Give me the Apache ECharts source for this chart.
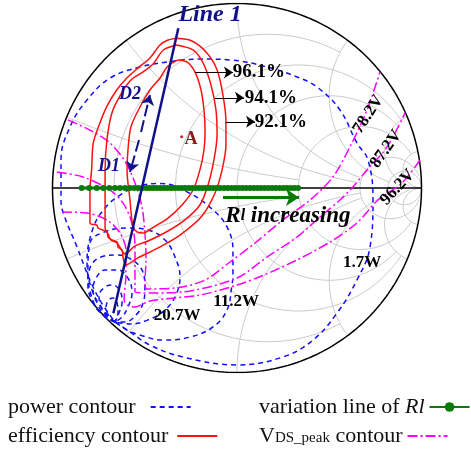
<!DOCTYPE html>
<html><head><meta charset="utf-8">
<script src="https://cdn.jsdelivr.net/npm/echarts@6/dist/echarts.min.js"></script>
<style>html,body{margin:0;padding:0;background:#fff}#c{width:471px;height:451px}</style>
</head><body><div id="c"></div><script>
// ---- Smith chart grid (normalized resistance / reactance values and their clip limits)
const gridR = [0.2, 0.5, 1, 2, 5, 10];
const gridRLim = [2, 5, 5, 10, 30, Infinity];
const gridX = [0.2, 0.5, 1, 2, 5, 10];
const gridXLim = [2, 5, 5, 10, 30, Infinity];

// ---- Efficiency contours (reflection coefficient, [Re, Im])
const eff961 = [[-0.320,0.694],[-0.271,0.683],[-0.228,0.629],[-0.195,0.531],[-0.179,0.423],[-0.173,0.314],[-0.179,0.206],[-0.201,0.098],[-0.238,-0.011],[-0.298,-0.092],[-0.374,-0.163],[-0.461,-0.217],[-0.509,-0.244],[-0.542,-0.238],[-0.564,-0.211],[-0.580,-0.065],[-0.596,0.098],[-0.591,0.206],[-0.575,0.331],[-0.526,0.439],[-0.472,0.531],[-0.417,0.596],[-0.379,0.656],[-0.320,0.694]];
const eff941 = [[-0.327,0.775],[-0.238,0.748],[-0.184,0.678],[-0.141,0.558],[-0.114,0.423],[-0.108,0.287],[-0.125,0.152],[-0.157,0.016],[-0.201,-0.092],[-0.282,-0.173],[-0.374,-0.233],[-0.482,-0.287],[-0.553,-0.314],[-0.607,-0.358],[-0.629,-0.331],[-0.650,-0.298],[-0.683,-0.282],[-0.699,-0.249],[-0.715,-0.217],[-0.715,-0.065],[-0.715,0.098],[-0.705,0.260],[-0.678,0.407],[-0.629,0.509],[-0.575,0.585],[-0.509,0.629],[-0.455,0.672],[-0.399,0.748],[-0.327,0.775]];
const eff921 = [[-0.327,0.811],[-0.244,0.797],[-0.163,0.732],[-0.108,0.640],[-0.076,0.504],[-0.060,0.358],[-0.060,0.233],[-0.081,0.098],[-0.119,-0.027],[-0.190,-0.152],[-0.309,-0.255],[-0.428,-0.325],[-0.537,-0.379],[-0.602,-0.417],[-0.618,-0.374],[-0.623,-0.336],[-0.645,-0.320],[-0.650,-0.293],[-0.678,-0.282],[-0.699,-0.266],[-0.705,-0.238],[-0.753,-0.217],[-0.759,-0.201],[-0.797,-0.190],[-0.797,-0.011],[-0.788,0.098],[-0.779,0.244],[-0.743,0.352],[-0.706,0.441],[-0.652,0.531],[-0.598,0.595],[-0.537,0.650],[-0.472,0.705],[-0.417,0.775],[-0.374,0.802],[-0.327,0.811]];

// ---- Output power contours
const pow17 = [[-0.661,-0.726],[-0.580,-0.780],[-0.472,-0.851],[-0.293,-0.916],[0,-0.959],[0.249,-0.916],[0.412,-0.824],[0.542,-0.678],[0.650,-0.499],[0.721,-0.320],[0.737,-0.065],[0.710,0.152],[0.650,0.244],[0.558,0.423],[0.434,0.547],[0.325,0.602],[0.163,0.656],[-0.038,0.694],[-0.201,0.699],[-0.379,0.683],[-0.526,0.656],[-0.688,0.596],[-0.813,0.477],[-0.905,0.331],[-0.954,0.152],[-0.954,-0.065],[-0.938,-0.146],[-0.867,-0.320],[-0.797,-0.499],[-0.737,-0.618],[-0.661,-0.726]];
const pow112 = [[-0.661,-0.726],[-0.721,-0.667],[-0.786,-0.553],[-0.813,-0.401],[-0.780,-0.217],[-0.715,-0.108],[-0.634,-0.038],[-0.542,0.007],[-0.417,0.025],[-0.255,-0.029],[-0.130,-0.119],[-0.054,-0.211],[-0.022,-0.336],[-0.022,-0.461],[-0.029,-0.537],[-0.054,-0.661],[-0.130,-0.753],[-0.255,-0.808],[-0.401,-0.824],[-0.526,-0.797],[-0.596,-0.770],[-0.661,-0.726]];
const pow207 = [[-0.661,-0.726],[-0.743,-0.672],[-0.791,-0.580],[-0.808,-0.461],[-0.797,-0.298],[-0.715,-0.237],[-0.591,-0.217],[-0.482,-0.228],[-0.390,-0.282],[-0.336,-0.374],[-0.309,-0.482],[-0.331,-0.580],[-0.390,-0.661],[-0.482,-0.715],[-0.580,-0.737],[-0.661,-0.726]];
const powC4 = [[-0.661,-0.726],[-0.721,-0.694],[-0.780,-0.623],[-0.808,-0.526],[-0.797,-0.434],[-0.737,-0.374],[-0.645,-0.363],[-0.569,-0.390],[-0.515,-0.444],[-0.499,-0.537],[-0.509,-0.623],[-0.547,-0.688],[-0.607,-0.726],[-0.661,-0.726]];
const powC5 = [[-0.661,-0.726],[-0.715,-0.694],[-0.753,-0.634],[-0.780,-0.553],[-0.764,-0.488],[-0.715,-0.444],[-0.645,-0.444],[-0.591,-0.488],[-0.569,-0.569],[-0.591,-0.645],[-0.623,-0.699],[-0.661,-0.726]];
const powC6 = [[-0.661,-0.726],[-0.705,-0.694],[-0.737,-0.645],[-0.748,-0.585],[-0.715,-0.537],[-0.672,-0.526],[-0.634,-0.558],[-0.623,-0.618],[-0.640,-0.678],[-0.661,-0.726]];
const powC7 = [[-0.661,-0.726],[-0.694,-0.694],[-0.710,-0.650],[-0.699,-0.612],[-0.672,-0.596],[-0.650,-0.623],[-0.645,-0.672],[-0.661,-0.726]];

// ---- VDS_peak contours
const vds782 = [[-0.916,0.369],[-0.797,0.314],[-0.688,0.244],[-0.602,0.136],[-0.547,0.011],[-0.515,-0.103],[-0.499,-0.244],[-0.493,-0.390],[-0.499,-0.515],[-0.488,-0.547],[-0.336,-0.542],[-0.173,-0.499],[-0.038,-0.401],[0.098,-0.298],[0.249,-0.173],[0.396,-0.065],[0.520,0.060],[0.612,0.222],[0.705,0.423],[0.775,0.629]];
const vds872 = [[-0.976,0.087],[-0.835,0.060],[-0.688,-0.011],[-0.618,-0.081],[-0.575,-0.173],[-0.553,-0.309],[-0.553,-0.444],[-0.553,-0.564],[-0.472,-0.569],[-0.255,-0.558],[0,-0.488],[0.163,-0.374],[0.325,-0.266],[0.450,-0.157],[0.558,-0.065],[0.623,0],[0.705,0.098],[0.813,0.222],[0.911,0.407]];
const vds962 = [[-0.949,-0.130],[-0.813,-0.136],[-0.705,-0.173],[-0.634,-0.244],[-0.602,-0.336],[-0.602,-0.472],[-0.612,-0.607],[-0.596,-0.634],[-0.553,-0.645],[-0.472,-0.612],[-0.201,-0.580],[0,-0.526],[0.141,-0.474],[0.325,-0.390],[0.504,-0.293],[0.650,-0.190],[0.764,-0.065],[0.894,0.027],[0.992,0.152]];

// ---- Load-resistance variation line (points on the real axis)
const rlLine = [-0.842,-0.801,-0.760,-0.725,-0.692,-0.661,-0.634,-0.607,-0.580,-0.557,-0.535,-0.511,-0.490,-0.472,-0.453,-0.434,-0.415,-0.396,-0.377,-0.358,-0.339,-0.320,-0.301,-0.282,-0.263,-0.244,-0.225,-0.206,-0.187,-0.168,-0.149,-0.130,-0.111,-0.092,-0.07,-0.05,-0.03,-0.01,0.01,0.03,0.05,0.07,0.09,0.11,0.13,0.15,0.17,0.19,0.21,0.23,0.25,0.27,0.29,0.31,0.331];

// ---- Line 1 and annotation arrows
const line1 = [[-0.318,0.866],[-0.670,-0.679]];
const arrowsBlack = [[[-0.228,0.626],[-0.022,0.626]],[[-0.119,0.489],[0.038,0.489]],[[-0.060,0.359],[0.098,0.359]]];
const arrowsNavy = [[[-0.520,0.304],[-0.472,0.504]],[[-0.531,0.260],[-0.580,0.087]]];
const arrowGreen = [[[-0.076,-0.051],[0.336,-0.051]]];
const pointA = [[-0.300,0.278]];

// ---- Text annotations
const labelTexts = ['96.1%','94.1%','92.1%','78.2V','87.2V','96.2V','1.7W','11.2W','20.7W'];
const labelPos = [[0.119,0.629],[0.184,0.488],[0.238,0.358],[0.712,0.399],[0.808,0.211],[0.870,0.003],[0.678,-0.407],[-0.005,-0.618],[-0.325,-0.694]];
const labelRot = [0,0,0,57,55,47,0,0,0];

const chart = echarts.init(document.getElementById('c'), null, {renderer:'canvas'});
const FONT = '"Liberation Serif","Times New Roman",serif';

function gam(r, x){ const d=(r+1)*(r+1)+x*x; return [(r*r+x*x-1)/d, 2*x/d]; }
const series = [];
function addLine(data, style, extra){ series.push(Object.assign({type:'line', data:data, symbol:'none', silent:true, animation:false, lineStyle:style, itemStyle:{color:style.color}}, extra||{})); }

// grid: resistance circles
gridR.forEach((r,k)=>{
  const a = Math.atan(gridRLim[k]); const pts=[]; const N=360;
  for(let i=0;i<=N;i++){ const t=-a+2*a*i/N; const x=Math.tan(t); pts.push(Math.abs(x)>1e7?[1,0]:gam(r,x)); }
  addLine(pts,{color:'#c9c9c9',width:1},{z:1});
});
// grid: reactance arcs
gridX.forEach((x,k)=>{
  const a = Math.atan(gridXLim[k]);
  [1,-1].forEach(s=>{ const pts=[]; const N=300;
    for(let i=0;i<=N;i++){ const t=a*i/N; const r=Math.tan(t); pts.push(r>1e7?[1,0]:gam(r,s*x)); }
    addLine(pts,{color:'#c9c9c9',width:1},{z:1});
  });
});
// outer boundary and real axis
(function(){ const pts=[]; for(let i=0;i<=360;i++){ const t=i*Math.PI/180; pts.push([Math.cos(t),Math.sin(t)]); } addLine(pts,{color:'#000',width:1.5},{z:2}); })();
addLine([[-1,0],[1,0]],{color:'#000',width:1.5},{z:2});

// power contours
const blueDash = {color:'#1010ff',width:1.5,type:[5,4]};
[pow17,pow112,pow207,powC4,powC5,powC6,powC7].forEach(d=>addLine(d,blueDash,{name:'power contour',smooth:0.4,z:4}));
// efficiency contours
const red = {color:'#ff1010',width:1.5};
[eff961,eff941,eff921].forEach(d=>addLine(d,red,{name:'efficiency contour',smooth:0.3,z:5}));
// VDS contours
const mag = {color:'#ff00ff',width:1.5,type:[10,3,2,3]};
[vds782,vds872,vds962].forEach(d=>addLine(d,mag,{name:'VDS_peak contour',smooth:0.3,z:4}));
// Rl variation line
series.push({type:'line',name:'variation line of Rl',data:rlLine.map(v=>[v,0]),symbol:'circle',symbolSize:6,showSymbol:true,silent:true,animation:false,
  lineStyle:{color:'#0a7a0a',width:3},itemStyle:{color:'#0a7a0a'},z:6});
// Line 1
addLine(line1,{color:'#10108a',width:2.5},{z:7});
// arrows
series.push({type:'lines',coordinateSystem:'cartesian2d',silent:true,animation:false,z:7,symbol:['none','arrow'],symbolSize:[0,9],
  lineStyle:{color:'#000',width:1,opacity:1},data:arrowsBlack.map(c=>({coords:c}))});
series.push({type:'lines',coordinateSystem:'cartesian2d',silent:true,animation:false,z:7,symbol:['none','arrow'],symbolSize:[0,10],
  lineStyle:{color:'#10108a',width:2,opacity:1,type:[12,4]},data:arrowsNavy.map(c=>({coords:c}))});
series.push({type:'lines',coordinateSystem:'cartesian2d',silent:true,animation:false,z:7,symbol:['none','arrow'],symbolSize:[0,13],
  lineStyle:{color:'#0a7a0a',width:3,opacity:1},data:arrowGreen.map(c=>({coords:c}))});
series.push({type:'scatter',data:pointA,symbolSize:3,itemStyle:{color:'#cc2020',opacity:1},silent:true,animation:false,z:7});

// text labels
const txt = [];
labelTexts.forEach((t,i)=>txt.push({value:labelPos[i],label:{formatter:t,rotate:labelRot[i],fontSize:(i<3?19:17)}}));
txt.push({value:[-0.146,0.938],label:{formatter:'Line 1',fontSize:24,fontStyle:'italic',color:'#10108a'}});
txt.push({value:[-0.580,0.509],label:{formatter:'D2',fontSize:18,fontStyle:'italic',color:'#10108a'}});
txt.push({value:[-0.694,0.119],label:{formatter:'D1',fontSize:18,fontStyle:'italic',color:'#10108a'}});
txt.push({value:[-0.249,0.266],label:{formatter:'A',fontSize:18,color:'#8b1a1a'}});
txt.push({value:[0.276,-0.152],label:{formatter:'{R|R}{l|l}{t| increasing}',rich:{R:{fontSize:23,fontStyle:'italic',fontWeight:'bold',fontFamily:FONT,color:'#000'},l:{fontSize:16,fontStyle:'italic',fontWeight:'bold',fontFamily:FONT,color:'#000'},t:{fontSize:23,fontStyle:'italic',fontWeight:'bold',fontFamily:FONT,color:'#000'}}}});
series.push({type:'scatter',data:txt,symbolSize:1,itemStyle:{color:'rgba(0,0,0,0)',opacity:1},silent:true,animation:false,z:9,
  label:{show:true,position:'inside',fontFamily:FONT,fontWeight:'bold',color:'#000',opacity:1,textBorderWidth:0}});

const rich = {n:{fontFamily:FONT,fontSize:22,color:'#111'},i:{fontFamily:FONT,fontSize:22,fontStyle:'italic',color:'#111'},
  s:{fontFamily:FONT,fontSize:15,color:'#111',padding:[5,0,0,0]},g1:{width:10},g2:{width:4}};
function leg(name,left,top,fmt,dot){ return {left:left,top:top,padding:0,align:'right',itemWidth:40,itemHeight:12,data:[name],selectedMode:false,
  textStyle:{fontFamily:FONT,fontSize:22,color:'#111',rich:rich},formatter:()=>fmt,itemStyle:dot?{}:{opacity:0}}; }
const option = {
  animation:false,
  grid:{left:52.5,top:3.5,width:369,height:369},
  xAxis:{type:'value',min:-1,max:1,show:false},
  yAxis:{type:'value',min:-1,max:1,show:false},
  legend:[
    leg('power contour',8,396,'{n|power contour}{g1|}',false),
    leg('efficiency contour',8,425,'{n|efficiency contour}{g2|}',false),
    leg('variation line of Rl',259,396,'{n|variation line of }{i|Rl}',true),
    leg('VDS_peak contour',259,425,'{n|V}{s|DS_peak}{n| contour}',false)
  ],
  series:series
};
chart.setOption(option);
</script></body></html>
